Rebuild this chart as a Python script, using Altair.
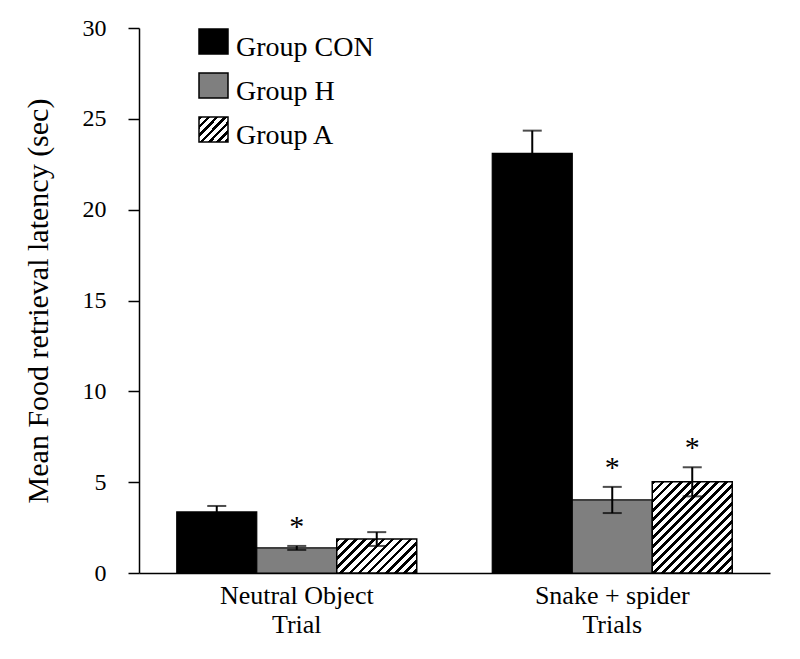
import math
import altair as alt
import pandas as pd

# ---- data ----
categories = ["Neutral Object\nTrial", "Snake + spider\nTrials"]
groups = ["Group CON", "Group H", "Group A"]
mean_con = [3.36, 23.1]
mean_h = [1.38, 4.02]
mean_a = [1.87, 5.02]
err_con = [0.33, 1.25]
err_h = [0.11, 0.72]
err_a = [0.38, 0.80]
sig_con = [False, False]
sig_h = [True, True]
sig_a = [False, True]
y_ticks = [0, 5, 10, 15, 20, 25, 30]

FONT = "Liberation Serif"
W, H = 631, 545
YMAX = 30
PX = H / YMAX
BAR_W = 80.0

rows = []
for g, ms, es, ss in [("Group CON", mean_con, err_con, sig_con),
                      ("Group H", mean_h, err_h, sig_h),
                      ("Group A", mean_a, err_a, sig_a)]:
    for ci, c in enumerate(categories):
        rows.append({"cat": c, "ci": ci, "group": g, "mean": ms[ci],
                     "lo": ms[ci] - es[ci], "hi": ms[ci] + es[ci], "sig": ss[ci]})
df = pd.DataFrame(rows)


def hatch(w, h, period=6.4, ink=0.42):
    """Diagonal '/' hatching as a sharp-stop linear gradient (bbox units)."""
    k = (w + h) / (w * w + h * h)
    n = (w + h) / (math.sqrt(2) * period)
    stops = []
    i = 0
    while i / n < 1:
        a = i / n
        b = min((i + ink) / n, 1)
        nxt = min((i + 1) / n, 1)
        stops += [{"offset": a, "color": "black"}, {"offset": b, "color": "black"},
                  {"offset": b, "color": "white"}, {"offset": nxt, "color": "white"}]
        i += 1
    return {"gradient": "linear", "x1": 0, "y1": 0, "x2": k * w, "y2": k * h, "stops": stops}


x_enc = alt.X("cat:N", sort=categories,
              scale=alt.Scale(domain=categories, paddingInner=0, paddingOuter=0),
              axis=alt.Axis(title=None, labelAngle=0, ticks=False, tickSize=0,
                            labelExpr="split(datum.label, '\\n')",
                            labelFont=FONT, labelFontSize=26, labelColor="black",
                            labelLineHeight=29, labelPadding=9,
                            domainColor="black", domainWidth=1.5))
xo_enc = alt.XOffset("group:N", sort=groups,
                     scale=alt.Scale(domain=groups, paddingInner=0, paddingOuter=0.472))
y_scale = alt.Scale(domain=[0, YMAX], nice=False)

base = alt.Chart(df)

bars = base.transform_filter("datum.group != 'Group A'").mark_bar(
    stroke="black", strokeWidth=1.2).encode(
    x=x_enc, xOffset=xo_enc,
    y=alt.Y("mean:Q", scale=y_scale,
            axis=alt.Axis(values=y_ticks, title="Mean Food retrieval latency (sec)",
                          grid=False, tickSize=11, tickWidth=1.5, tickColor="black",
                          domainColor="black", domainWidth=1.5,
                          labelFont=FONT, labelFontSize=24, labelColor="black",
                          labelPadding=22, titleFont=FONT, titleFontSize=30,
                          titleFontWeight="normal", titleColor="black",
                          titlePadding=29)),
    fill=alt.Fill("group:N", scale=alt.Scale(domain=groups,
                  range=["#000000", "#7f7f7f", "#ffffff"]), legend=None),
)

a_rows = df[df.group == "Group A"].reset_index(drop=True)
grad0 = hatch(BAR_W, a_rows.loc[0, "mean"] * PX)
grad1 = hatch(BAR_W, a_rows.loc[1, "mean"] * PX)
bars_a = base.transform_filter("datum.group == 'Group A'").mark_bar(
    stroke="black", strokeWidth=1.5).encode(
    x=x_enc, xOffset=xo_enc, y=alt.Y("mean:Q", scale=y_scale),
    fill={"condition": {"test": "datum.ci == 0", "value": grad0}, "value": grad1},
)

err_line = base.mark_rule(color="black", strokeWidth=2).encode(
    x=x_enc, xOffset=xo_enc, y=alt.Y("lo:Q", scale=y_scale), y2="hi:Q")
cap_hi = base.mark_tick(color="black", size=19, thickness=2).encode(
    x=x_enc, xOffset=xo_enc, y=alt.Y("hi:Q", scale=y_scale))
cap_lo = base.mark_tick(color="black", size=19, thickness=2).encode(
    x=x_enc, xOffset=xo_enc, y=alt.Y("lo:Q", scale=y_scale))

stars = base.transform_filter("datum.sig").mark_text(
    text="*", font=FONT, fontSize=30, color="black", baseline="alphabetic", dy=-10).encode(
    x=x_enc, xOffset=xo_enc, y=alt.Y("hi:Q", scale=y_scale))

# ---- legend drawn inside the plot area ----
legend_layers = []
leg_fills = ["#000000", "#7f7f7f", hatch(30, 25, period=6.0)]
for i, g in enumerate(groups):
    top = 1 + 44 * i
    one = alt.Chart(pd.DataFrame({"g": [g]}))
    legend_layers.append(one.mark_rect(stroke="black", strokeWidth=1.5).encode(
        x=alt.value(60), x2=alt.value(89), y=alt.value(top), y2=alt.value(top + 25),
        fill=alt.value(leg_fills[i])))
    legend_layers.append(one.mark_text(font=FONT, fontSize=28, color="black",
                                       align="left", baseline="alphabetic").encode(
        text="g:N", x=alt.value(97), y=alt.value(top + 27)))

chart = alt.layer(bars, bars_a, err_line, cap_hi, cap_lo, stars, *legend_layers).properties(
    width=W, height=H,
    background="white",
    autosize=alt.AutoSizeParams(type="none"),
    padding={"left": 131, "top": 20, "right": 20, "bottom": 80},
).configure_view(strokeWidth=0)

chart.save("out.html", embed_options={"renderer": "svg", "actions": False})
